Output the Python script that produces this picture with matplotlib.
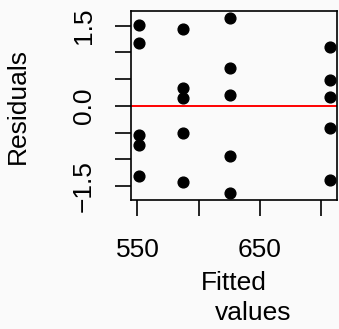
import matplotlib
matplotlib.use('Agg')
import matplotlib.pyplot as plt

# fitted values (one group per treatment level) and residuals
fitted = [551, 551, 551, 551, 551,
          587, 587, 587, 587, 587,
          626, 626, 626, 626, 626,
          707, 707, 707, 707, 707]
residuals = [1.52, 1.17, -0.54, -0.74, -1.32,
             1.43, 0.34, 0.15, -0.50, -1.42,
             1.65, 0.70, 0.21, -0.94, -1.63,
             1.11, 0.48, 0.17, -0.41, -1.39]

x_ticks = [550, 600, 650, 700]
x_tick_labels = ['550', '', '650', '']
y_ticks = [-1.5, -1.0, -0.5, 0.0, 0.5, 1.0, 1.5]
y_tick_labels = ['\u22121.5', '', '', '0.0', '', '', '1.5']

plt.rcParams['font.family'] = ['Liberation Sans', 'DejaVu Sans']
plt.rcParams['font.size'] = 19

bg = '#fafafa'
fig = plt.figure(figsize=(3.39, 3.29), dpi=100)
fig.patch.set_facecolor(bg)
ax = fig.add_axes([131 / 339, 1 - 200 / 329, 206 / 339, 189 / 329])
ax.set_facecolor(bg)

ax.scatter(fitted, residuals, s=60, color='black', zorder=3, clip_on=False)
ax.axhline(0, color='#ff0000', linewidth=1.4, zorder=2)

ax.set_xlim(544.7, 713.1)
ax.set_ylim(-1.762, 1.775)

ax.set_xticks(x_ticks)
ax.set_xticklabels(x_tick_labels)
ax.set_yticks(y_ticks)
ax.set_yticklabels(y_tick_labels, rotation=90, va='center')

ax.tick_params(axis='both', direction='out', length=11.5, width=1.2,
               color='black', labelsize=19)
ax.tick_params(axis='x', pad=16)
ax.tick_params(axis='y', pad=14)

for sp in ax.spines.values():
    sp.set_linewidth(1.2)
    sp.set_color('black')

fig.text(17.5 / 339, 1 - 106 / 329, 'Residuals', rotation=90,
         ha='center', va='center', fontsize=19)
fig.text(234 / 339, 1 - 283 / 329, 'Fitted', ha='center', va='center', fontsize=19)
fig.text(253 / 339, 1 - 313 / 329, 'values', ha='center', va='center', fontsize=19)

fig.savefig('out.png', dpi=100, facecolor=fig.get_facecolor())
